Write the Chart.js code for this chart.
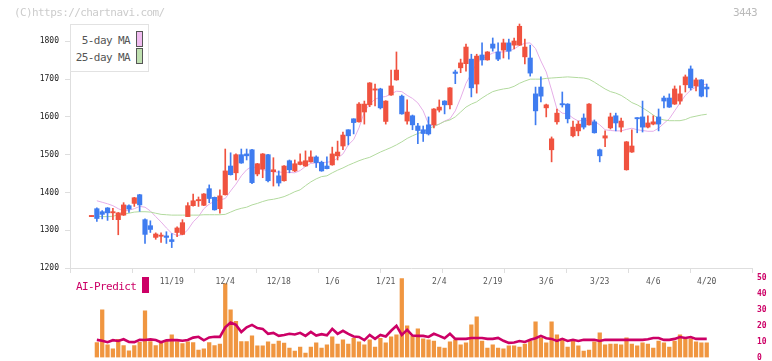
<!DOCTYPE html>
<html><head><meta charset="utf-8">
<script src="https://cdn.jsdelivr.net/npm/chart.js@4/dist/chart.umd.min.js"></script>
<style>
html,body{margin:0;padding:0;background:#fff;}
#wrap{position:relative;width:772px;height:361px;overflow:hidden;font-family:"DejaVu Sans Mono",monospace;}
canvas{position:absolute;left:0;top:0;}
.t{position:absolute;white-space:nowrap;font-size:11px;letter-spacing:-0.6px;line-height:1;}
.sw{position:absolute;box-sizing:border-box;border:1px solid #555;}
</style></head>
<body><div id="wrap">
<canvas id="c2" width="772" height="400"></canvas>
<canvas id="c1" width="772" height="361"></canvas>
<div class="t" style="left:14px;top:7px;color:#ccc">(C)https://chartnavi.com/</div>
<div class="t" style="left:733px;top:7px;color:#bbb">3443</div>
<div style="position:absolute;left:70px;top:24px;width:79px;height:48px;box-sizing:border-box;border:1px solid #e2e2e2;background:#fff"></div>
<div class="t" style="right:642px;top:35px;color:#555">5-day MA</div>
<div class="sw" style="left:136px;top:31px;width:7px;height:16px;background:#f0bcf0"></div>
<div class="t" style="right:642px;top:52px;color:#555">25-day MA</div>
<div class="sw" style="left:136px;top:48px;width:7px;height:16px;background:#bfe0b0"></div>
<div class="t" style="left:76px;top:280.5px;color:#cc0066">AI-Predict</div>
<div style="position:absolute;left:142px;top:277px;width:7px;height:16px;background:#cc0066"></div>
</div>
<script>
// ---- data ----
const opens  = [1336,1357,1349,1359,1346,1328,1340,1365,1371,1394,1328,1312,1281,1284,1285,1275,1294,1289,1336,1365,1378,1366,1410,1387,1357,1394,1470,1452,1500,1502,1513,1449,1462,1500,1455,1444,1431,1484,1457,1474,1470,1481,1494,1480,1470,1473,1497,1523,1566,1595,1587,1613,1632,1671,1674,1588,1658,1698,1655,1589,1603,1576,1566,1579,1579,1618,1642,1632,1719,1730,1741,1753,1687,1764,1751,1793,1772,1777,1796,1790,1790,1759,1756,1661,1679,1624,1513,1587,1634,1634,1550,1563,1597,1579,1587,1513,1544,1571,1603,1573,1460,1507,1597,1600,1573,1581,1600,1650,1650,1634,1642,1685,1727,1682,1698,1679];
const closes = [1338,1331,1342,1346,1349,1346,1367,1356,1386,1367,1289,1302,1290,1285,1281,1270,1306,1320,1365,1378,1380,1396,1384,1354,1391,1457,1447,1500,1478,1497,1426,1476,1502,1431,1460,1425,1470,1460,1476,1481,1484,1494,1479,1457,1463,1502,1507,1552,1550,1585,1634,1634,1690,1674,1624,1642,1682,1724,1608,1613,1579,1564,1556,1555,1621,1626,1632,1677,1715,1743,1785,1677,1761,1751,1772,1782,1753,1796,1774,1801,1840,1785,1716,1616,1655,1632,1542,1610,1632,1595,1573,1581,1573,1634,1558,1497,1550,1600,1584,1589,1534,1523,1595,1573,1584,1587,1581,1642,1626,1674,1661,1706,1677,1698,1655,1674];
const highs  = [1338,1359,1352,1360,1358,1347,1373,1367,1387,1395,1330,1325,1293,1293,1296,1291,1309,1328,1373,1396,1388,1397,1420,1388,1407,1515,1505,1502,1515,1515,1514,1477,1503,1501,1492,1457,1471,1486,1486,1502,1510,1510,1497,1483,1494,1520,1536,1560,1566,1595,1638,1642,1691,1687,1676,1643,1724,1772,1658,1645,1605,1583,1576,1600,1622,1645,1643,1678,1724,1753,1793,1766,1766,1796,1773,1809,1796,1806,1806,1809,1846,1806,1790,1679,1706,1634,1547,1621,1666,1635,1589,1589,1608,1635,1592,1515,1563,1610,1610,1597,1535,1566,1598,1642,1603,1603,1621,1655,1661,1682,1682,1711,1735,1703,1699,1687];
const lows   = [1336,1323,1330,1326,1328,1288,1339,1347,1363,1350,1265,1294,1276,1268,1265,1254,1283,1288,1336,1364,1363,1365,1373,1353,1345,1393,1446,1433,1477,1486,1423,1444,1439,1428,1417,1417,1430,1452,1455,1473,1469,1480,1466,1456,1462,1472,1486,1513,1526,1555,1586,1581,1627,1629,1621,1581,1657,1697,1607,1581,1566,1529,1535,1552,1571,1613,1608,1621,1688,1717,1721,1653,1663,1737,1750,1774,1749,1756,1753,1780,1789,1740,1708,1579,1640,1600,1481,1581,1626,1584,1547,1550,1568,1578,1557,1481,1521,1568,1563,1560,1459,1506,1558,1560,1571,1579,1563,1624,1625,1633,1634,1666,1671,1669,1653,1653];
const ma5  = [null,1378,1374,1370,1365,1357,1351,1353,1357,1363,1361,1351,1336,1322,1306,1292,1286,1288,1301,1322,1336,1357,1369,1377,1380,1384,1404,1422,1444,1460,1469,1464,1460,1458,1454,1454,1453,1453,1452,1458,1469,1477,1478,1479,1480,1482,1491,1502,1526,1540,1571,1613,1634,1647,1652,1654,1661,1668,1667,1657,1649,1637,1616,1581,1575,1581,1589,1595,1616,1650,1689,1715,1742,1754,1762,1769,1772,1772,1774,1780,1789,1795,1796,1781,1748,1719,1671,1621,1610,1608,1597,1589,1592,1590,1589,1579,1566,1564,1563,1563,1567,1570,1566,1564,1562,1562,1570,1583,1595,1616,1637,1657,1671,1679,1684,1687];
const ma25 = [null,1337,1336,1336,1337,1341,1343,1345,1348,1349,1349,1348,1345,1342,1341,1340,1340,1340,1340,1340,1340,1341,1341,1341,1341,1342,1348,1354,1358,1361,1367,1371,1376,1380,1382,1385,1389,1395,1402,1407,1418,1428,1436,1442,1444,1452,1459,1465,1472,1478,1484,1489,1493,1500,1507,1513,1519,1526,1534,1543,1550,1556,1561,1569,1575,1581,1588,1592,1600,1613,1626,1634,1640,1650,1659,1667,1671,1674,1676,1681,1689,1695,1700,1700,1700,1702,1703,1704,1705,1706,1705,1704,1703,1700,1692,1683,1674,1667,1663,1657,1648,1638,1632,1624,1615,1605,1596,1592,1590,1590,1590,1593,1599,1602,1605,1607];
const volume = [null,9.4,30,8.0,5.4,11.5,7.5,4.2,7.5,9.6,29.4,10,7.5,9,10.4,14.2,10,8.8,9.8,9.4,4.7,5.4,9.4,7.5,8.5,46.5,30,22.7,10,10,13.7,7.4,7.3,9.8,8.5,10.4,9,6,4.1,6.6,2.8,6.6,9.2,6,7.9,13,8.5,11.1,8.5,12.1,9.8,7.9,11.1,6.6,12.1,9.2,13,14.2,49.7,19.9,13.6,18,11.7,11.1,10.4,6.6,6,9.8,11.1,7.9,9.2,20.6,25.6,10.4,6,7.9,6,5.4,7.3,7.3,6.6,8.5,10.4,22.5,12.3,9.2,22.5,14.2,11.7,6.6,10.4,7.3,4.1,4.7,9.8,15.5,7.9,8.5,8.5,7.9,12.3,8.5,7.3,9.2,8.5,6,10.4,9.2,6.6,10.4,14.2,11.7,11.7,9.8,9.2,9.2];
const aiPredict = [null,11.1,10.5,9.6,10.9,10.4,11.5,9.8,9.7,11.2,11.0,11.4,11.0,9.6,10.8,10.9,10.9,10.5,11.0,12.5,13,10.8,12.6,13,13,19,22,20.5,16,19,20.5,18.5,18,14.9,15.5,13.6,14.2,14.9,14.5,15.5,13.6,16.1,13.8,14.7,14,18,14.9,16.8,14.9,13.2,12.9,10.9,14.2,11.7,14.2,13.2,16.8,19.9,14.2,17.4,13.8,13.6,13.6,12.9,14.9,13.6,12.1,14.9,11.7,11.7,11.7,12.3,12.3,12.3,11.7,11.7,12.3,10.5,9.2,9.4,10.4,9.8,11.1,12.1,13.6,12.1,11.7,10.4,11.7,10.4,11.1,10.4,11.1,11.1,11.1,10.4,11.1,11.1,11.1,11.1,11.1,11.1,11.1,11.1,11.5,12.3,12.3,11.1,11.1,11.7,12.9,12.3,12.9,11.7,11.7,11.7];
const labelIdx   = [15,25,35,45,55,65,75,85,95,105,115];
const dateLabels = ['11/19','12/4','12/18','1/6','1/21','2/4','2/19','3/6','3/23','4/6','4/20'];
const priceTicks = [1200,1300,1400,1500,1600,1700,1800];
const aiTicks    = [0,10,20,30,40,50];

// ---- styles ----
const UP = '#f0523f', DOWN = '#3f7cf0';
const X_MIN = -4.02, X_MAX = 123.46;
const idx = opens.map((_, i) => i);
const candleColor = idx.map(i => closes[i] >= opens[i] ? UP : DOWN);
const pts = arr => arr.map((v, i) => ({x: i, y: v})).filter(p => p.y !== null);

new Chart(document.getElementById('c1'), {
  type: 'bar',
  data: {
    datasets: [
      {type: 'line', label: '5-day MA', data: pts(ma5), borderColor: '#e6aee8', borderWidth: 1, pointRadius: 0, tension: 0, order: 4},
      {type: 'line', label: '25-day MA', data: pts(ma25), borderColor: '#b2da9e', borderWidth: 1, pointRadius: 0, tension: 0, order: 3},
      {type: 'bar', label: 'wick', data: idx.map(i => ({x: i, y: [lows[i], highs[i]]})), backgroundColor: candleColor, barThickness: 1, grouped: false, order: 2, clip: false},
      {type: 'bar', label: 'body', data: idx.map(i => ({x: i, y: [opens[i], closes[i]]})), backgroundColor: candleColor, barThickness: 4.5, minBarLength: 1.2, grouped: false, order: 1, clip: false}
    ]
  },
  options: {
    responsive: false, animation: false, events: [],
    layout: {padding: {left: 0, right: 20, top: 24, bottom: 73}},
    plugins: {legend: {display: false}, tooltip: {enabled: false}},
    scales: {
      x: {
        type: 'linear', min: X_MIN, max: X_MAX, offset: false,
        afterFit: s => { s.height = 20; },
        afterBuildTicks: s => {
          const t = [];
          for (let i = 0; i <= 11; i++) t.push({value: X_MIN + i * (X_MAX - X_MIN) / 11});
          labelIdx.forEach(v => t.push({value: v}));
          t.sort((a, b) => a.value - b.value);
          s.ticks = t;
        },
        ticks: {
          autoSkip: false, maxRotation: 0, padding: 4, color: '#555',
          font: {family: 'DejaVu Sans Mono', size: 8},
          callback: v => { const k = labelIdx.indexOf(v); return k >= 0 ? dateLabels[k] : ''; }
        },
        grid: {display: true, drawOnChartArea: false, offset: false, tickLength: 5,
          tickColor: c => (c.tick && labelIdx.includes(c.tick.value)) ? 'rgba(0,0,0,0)' : '#dedede'},
        border: {display: true, color: '#dedede'}
      },
      y: {
        min: 1200, max: 1846,
        afterFit: s => { s.width = 70; },
        afterBuildTicks: s => { s.ticks = priceTicks.map(v => ({value: v})); },
        ticks: {padding: 6, color: '#222', font: {family: 'DejaVu Sans Mono', size: 8}, callback: v => String(v)},
        grid: {display: true, drawOnChartArea: false, tickLength: 5, tickColor: '#dedede'},
        border: {display: true, color: '#dedede'}
      }
    }
  }
});

new Chart(document.getElementById('c2'), {
  type: 'bar',
  data: {
    datasets: [
      {type: 'line', label: 'AI-Predict', data: pts(aiPredict), borderColor: '#cc0066', borderWidth: 2.6, pointRadius: 0, tension: 0, order: 0},
      {type: 'bar', label: 'volume', data: pts(volume), backgroundColor: '#f09640', barThickness: 3.6, order: 1}
    ]
  },
  options: {
    responsive: false, animation: false, events: [],
    layout: {padding: {left: 70, right: 0, top: 278, bottom: 42.5}},
    plugins: {legend: {display: false}, tooltip: {enabled: false}},
    scales: {
      x: {type: 'linear', min: X_MIN, max: X_MAX, offset: false, display: false},
      y: {
        position: 'right', min: 0, max: 50,
        afterFit: s => { s.width = 20; },
        afterBuildTicks: s => { s.ticks = aiTicks.map(v => ({value: v})); },
        ticks: {padding: 5, color: '#cc0066', font: {family: 'DejaVu Sans Mono', size: 8, weight: 'bold'}, callback: v => String(v)},
        grid: {display: false, drawTicks: false},
        border: {display: false}
      }
    }
  }
});
</script>
</body></html>
